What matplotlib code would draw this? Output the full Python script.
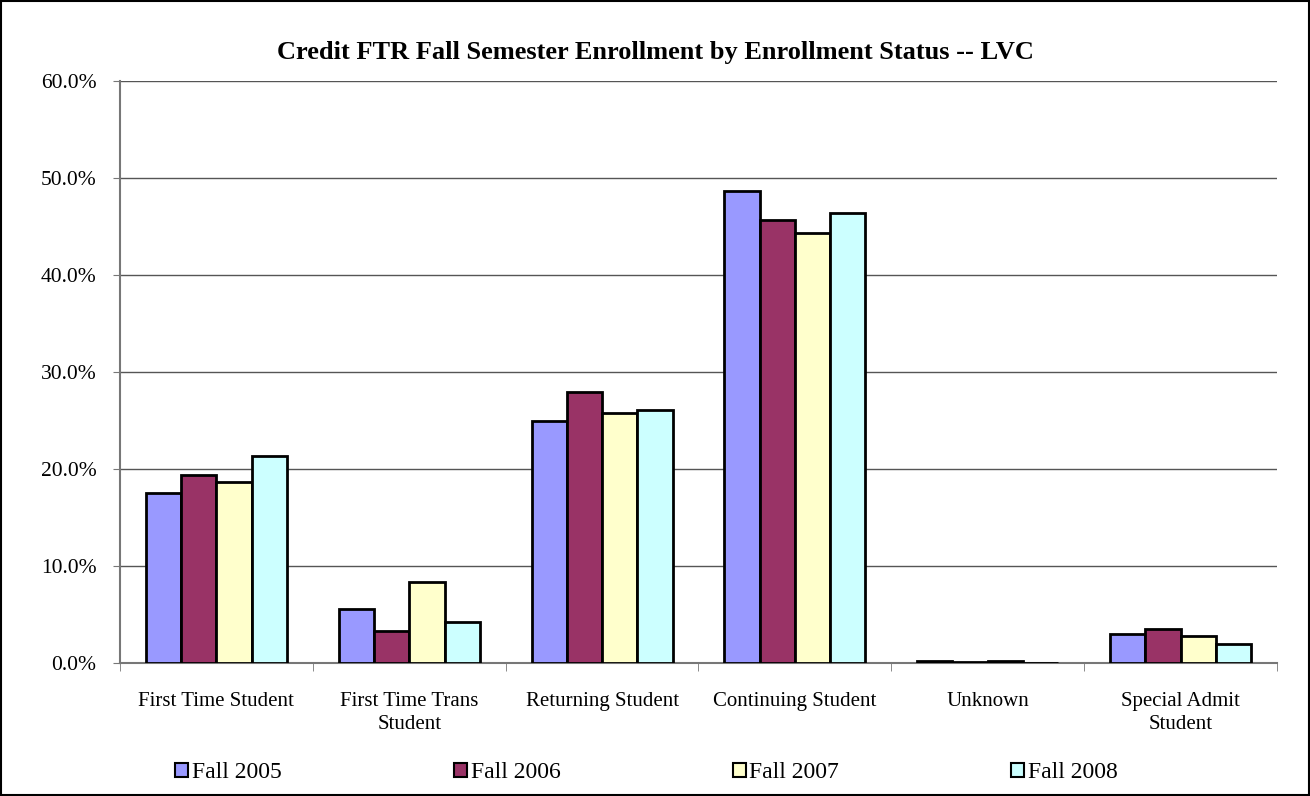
import numpy as np
import matplotlib.pyplot as plt
from matplotlib.ticker import PercentFormatter
from matplotlib.patches import Patch, Rectangle

plt.rcParams['font.family'] = ['Liberation Serif', 'DejaVu Serif']

categories = ['First Time Student', 'First Time Trans\nStudent', 'Returning Student',
              'Continuing Student', 'Unknown', 'Special Admit\nStudent']
series = ['Fall 2005', 'Fall 2006', 'Fall 2007', 'Fall 2008']
fall_2005 = [17.5, 5.6, 24.9, 48.7, 0.2, 3.0]
fall_2006 = [19.4, 3.3, 27.9, 45.7, 0.1, 3.5]
fall_2007 = [18.7, 8.3, 25.8, 44.3, 0.2, 2.8]
fall_2008 = [21.3, 4.2, 26.1, 46.4, 0.0, 2.0]
colors = ['#9999ff', '#993366', '#ffffcc', '#ccffff']

values = [fall_2005, fall_2006, fall_2007, fall_2008]

fig = plt.figure(figsize=(13.1, 7.96), dpi=100)
ax = fig.add_axes([120 / 1310, 1 - 663 / 796, 1157 / 1310, 582 / 796])

x = np.arange(len(categories))
w = 0.183
for i, (name, vals) in enumerate(zip(series, values)):
    ax.bar(x + (i - 1.5) * w, vals, width=w, color=colors[i], edgecolor='black',
           linewidth=2, label=name, zorder=3)

ax.set_xlim(-0.5, len(categories) - 0.5)
ax.set_ylim(0, 60)
ax.set_yticks(np.arange(0, 61, 10))
ax.yaxis.set_major_formatter(PercentFormatter(decimals=1))
ax.yaxis.grid(True, color='#555555', linewidth=1)
ax.set_axisbelow(True)

ax.set_xticks(x)
ax.set_xticklabels(categories, fontsize=15, linespacing=1.25)
ax.set_xticks(np.arange(-0.5, len(categories)), minor=True)
ax.tick_params(axis='x', which='major', length=0, pad=21)
ax.tick_params(axis='x', which='minor', length=6, color='#777777')
ax.tick_params(axis='y', labelsize=15.5, length=5, color='#777777', pad=12)

for side in ['top', 'right']:
    ax.spines[side].set_visible(False)
ax.spines['left'].set_color('#777777')
ax.spines['bottom'].set_color('#777777')
ax.spines['left'].set_linewidth(1.5)
ax.spines['bottom'].set_linewidth(1.5)

fig.text(0.5, 1 - 53 / 796, 'Credit FTR Fall Semester Enrollment by Enrollment Status -- LVC',
         ha='center', va='center', fontsize=19, fontweight='bold')

handles = [Patch(facecolor=c, edgecolor='black', linewidth=1.5) for c in colors]
fig.legend(handles, series, loc='center left', bbox_to_anchor=(166 / 1310, 1 - 773 / 796),
           ncol=4, frameon=False, fontsize=17, handlelength=0.55, handleheight=0.55,
           handletextpad=0.15, columnspacing=7.3, borderaxespad=0)

fig.patches.append(Rectangle((0.001, 0.001), 0.998, 0.998, transform=fig.transFigure,
                             fill=False, edgecolor='black', linewidth=1.5))

fig.savefig('out.png', dpi=100)
